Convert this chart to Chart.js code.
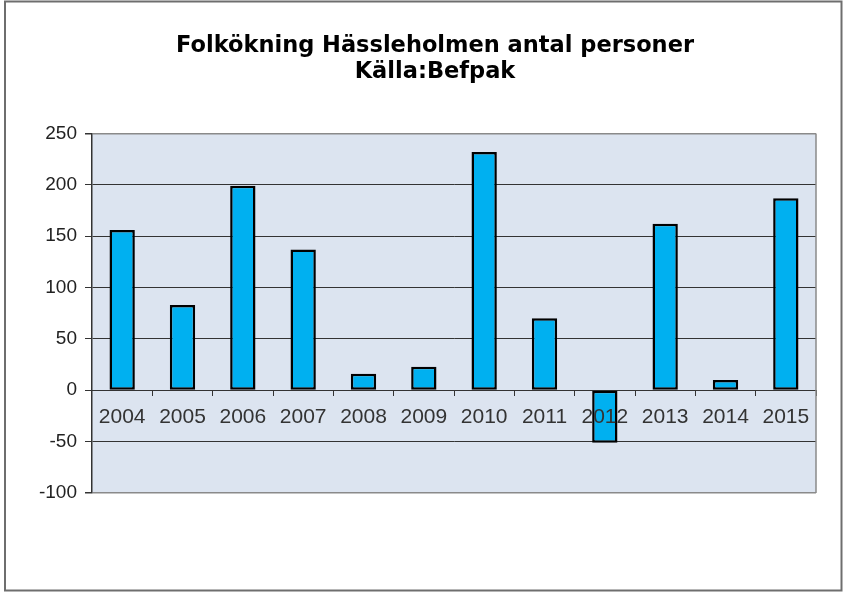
<!DOCTYPE html>
<html>
<head>
<meta charset="utf-8">
<script src="https://cdn.jsdelivr.net/npm/chart.js@4/dist/chart.umd.min.js"></script>
<style>
html,body{margin:0;padding:0;background:#fff;}
#wrap{position:relative;width:843px;height:593px;}
</style>
</head>
<body>
<div id="wrap"><canvas id="c"></canvas></div>
<script>
const titleLines = ['Folkökning Hässleholmen antal personer', 'Källa:Befpak'];
const years = ['2004','2005','2006','2007','2008','2009','2010','2011','2012','2013','2014','2015'];
const growth = [156, 83, 199, 137, 16, 23, 232, 70, -51, 162, 10, 187];
const yMin = -100, yMax = 250, yStep = 50;

const plotBg = {
  id: 'plotBg',
  afterLayout(chart) {
    if (chart.titleBlock) chart.titleBlock.left = 54;
  },
  beforeDraw(chart) {
    const {ctx, chartArea: a} = chart;
    ctx.save();
    ctx.fillStyle = '#dce4f0';
    ctx.fillRect(a.left, a.top, a.right - a.left, a.bottom - a.top);
    ctx.restore();
  },
  afterDatasetsDraw(chart) {
    const {ctx, chartArea: a} = chart;
    ctx.save();
    ctx.strokeStyle = '#8a8a8a';
    ctx.lineWidth = 1.5;
    ctx.beginPath();
    ctx.moveTo(a.right, a.top);
    ctx.lineTo(a.right, a.bottom);
    ctx.stroke();
    ctx.restore();
  }
};
const frame = {
  id: 'frame',
  afterDraw(chart) {
    const {ctx, width, height} = chart;
    ctx.save();
    ctx.strokeStyle = '#6e6e6e';
    ctx.lineWidth = 2;
    ctx.strokeRect(5, 1.5, width - 6.5, height - 4);
    ctx.restore();
  }
};

new Chart(document.getElementById('c'), {
  type: 'bar',
  data: {
    labels: years,
    datasets: [{
      data: growth,
      backgroundColor: '#00b0f0',
      borderColor: '#000000',
      borderWidth: 2.5,
      borderSkipped: false,
      barPercentage: 0.42,
      categoryPercentage: 1
    }]
  },
  options: {
    responsive: true,
    maintainAspectRatio: false,
    animation: false,
    layout: { padding: { left: 0, right: 27, top: 0, bottom: 100 } },
    plugins: {
      legend: { display: false },
      tooltip: { enabled: false },
      title: {
        display: true,
        text: titleLines,
        color: '#000',
        font: { family: 'DejaVu Sans', weight: 'bold', size: 22.5, lineHeight: 1.12 },
        padding: { top: 34, bottom: 49 }
      }
    },
    scales: {
      x: {
        position: { y: 0 },
        offset: true,
        grid: { display: true, offset: true, drawOnChartArea: false, drawTicks: true, tickLength: 5, color: '#333', lineWidth: 1 },
        border: { display: true, color: '#333', width: 1 },
        ticks: { z: 1, color: '#333', padding: 9, font: { family: 'Liberation Sans', size: 21 }, maxRotation: 0, autoSkip: false }
      },
      y: {
        min: yMin, max: yMax,
        afterFit(scale) { scale.width = 92; },
        grid: {
          color: (c) => (c.tick && (c.tick.value === yMax || c.tick.value === yMin)) ? '#8a8a8a' : '#333',
          tickColor: '#333',
          lineWidth: (c) => (c.tick && (c.tick.value === yMax || c.tick.value === yMin)) ? 1.5 : 1,
          tickLength: 7
        },
        border: { display: true, color: '#333', width: 1.5 },
        ticks: { stepSize: yStep, color: '#222', padding: 8, font: { family: 'Liberation Sans', size: 19 } }
      }
    }
  },
  plugins: [plotBg, frame]
});
</script>
</body>
</html>
